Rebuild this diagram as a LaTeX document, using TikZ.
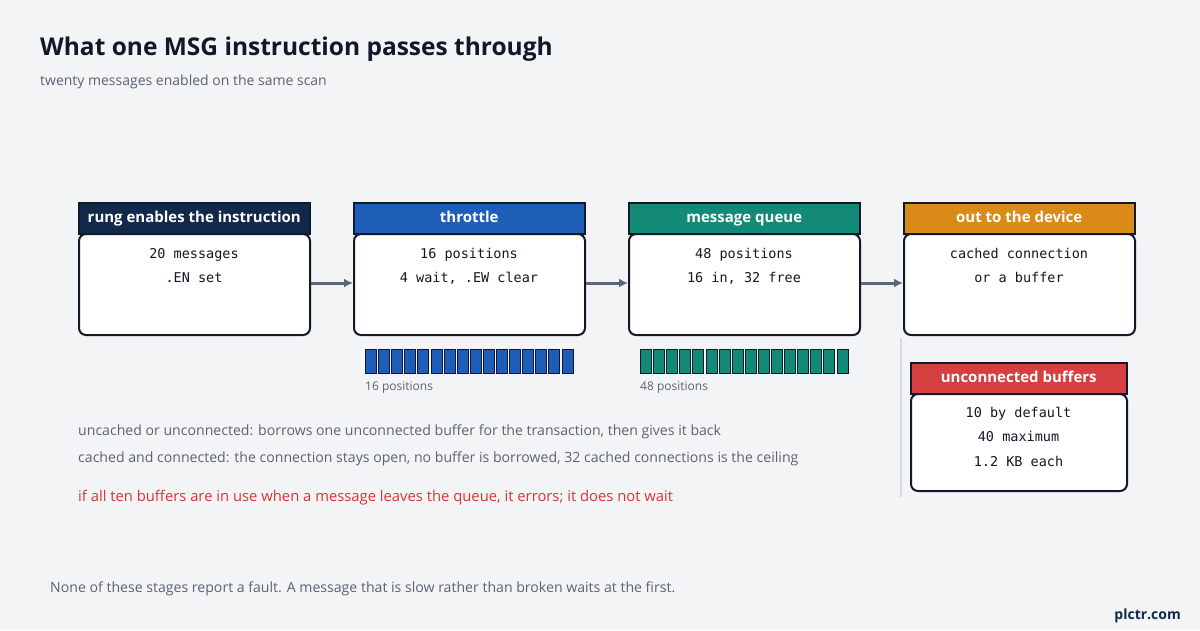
\documentclass[tikz,border=0pt]{standalone}
\usepackage{fontspec}
\setmainfont{Open Sans}
\setmonofont{DejaVu Sans Mono}
\usetikzlibrary{arrows.meta}
\definecolor{bg}{HTML}{F3F4F6}
\definecolor{ink}{HTML}{111827}
\definecolor{navy}{HTML}{13294B}
\definecolor{hblue}{HTML}{1F5EB8}
\definecolor{hteal}{HTML}{138A78}
\definecolor{horange}{HTML}{D98A17}
\definecolor{hred}{HTML}{D63F3F}
\definecolor{gtext}{HTML}{5B6272}
\definecolor{arrowc}{HTML}{5B6678}
\definecolor{rtext}{HTML}{D93434}
\definecolor{vline}{HTML}{D5D9E0}
\tikzset{
  hdr/.style={draw=ink, line width=1.5pt, minimum height=31pt, minimum width=231pt, inner sep=0pt, text height=11pt, text depth=3.5pt, text=white, font=\bfseries\fontsize{15}{18}\selectfont, anchor=north west},
  bodybox/.style={draw=ink, fill=white, line width=2pt, rounded corners=7pt, minimum width=231pt, inner sep=0pt, anchor=north west},
  mono/.style={font=\ttfamily\fontsize{13.5}{16}\selectfont, text=ink, anchor=base},
  cell/.style={draw=ink, line width=0.8pt, minimum width=11pt, minimum height=24pt, inner sep=0pt, anchor=north west},
  flow/.style={draw=arrowc, line width=3pt, -{Latex[length=9pt,width=9pt]}},
  note/.style={font=\fontsize{14.1}{17}\selectfont, text=gtext, anchor=base west},
  small/.style={font=\fontsize{12}{14}\selectfont, text=gtext, anchor=base west}
}
\begin{document}
\begin{tikzpicture}[x=1pt,y=-1pt]
\fill[bg] (0,0) rectangle (1200,630);
\useasboundingbox (0,0) rectangle (1200,630);

\node[font=\bfseries\fontsize{24.5}{28}\selectfont, text=ink, anchor=base west, inner sep=0pt] (title) at (40,55) {What one MSG instruction passes through};
\node[font=\fontsize{14}{17}\selectfont, text=gtext, anchor=base west, inner sep=0pt] (sub) at (40,85) {twenty messages enabled on the same scan};

% boxes
\node[bodybox, minimum height=101pt] (b1) at (78,233) {};
\node[hdr, fill=navy] (h1) at (78,202) {rung enables the instruction};
\node[mono] (b1a) at (194,258) {20 messages};
\node[mono] (b1b) at (194,282) {.EN set};

\node[bodybox, minimum height=101pt] (b2) at (353,233) {};
\node[hdr, fill=hblue] (h2) at (353,202) {throttle};
\node[mono] (b2a) at (469,258) {16 positions};
\node[mono] (b2b) at (469,282) {4 wait, .EW clear};

\node[bodybox, minimum height=101pt] (b3) at (628,233) {};
\node[hdr, fill=hteal] (h3) at (628,202) {message queue};
\node[mono] (b3a) at (744,258) {48 positions};
\node[mono] (b3b) at (744,282) {16 in, 32 free};

\node[bodybox, minimum height=101pt] (b4) at (903,233) {};
\node[hdr, fill=horange] (h4) at (903,202) {out to the device};
\node[mono] (b4a) at (1019,258) {cached connection};
\node[mono] (b4b) at (1019,282) {or a buffer};

% arrows
\draw[flow] (b1.east |- 0,283) -- (b2.west |- 0,283);
\draw[flow] (b2.east |- 0,283) -- (b3.west |- 0,283);
\draw[flow] (b3.east |- 0,283) -- (b4.west |- 0,283);

% cells
\foreach \i in {0,...,15} {
  \node[cell, fill=hblue] (tc\i) at ({365+\i*13.1},348.5) {};
  \node[cell, fill=hteal] (qc\i) at ({640+\i*13.1},348.5) {};
}
\node[small, inner sep=0pt] (tl) at (365,390) {16 positions};
\node[small, inner sep=0pt] (ql) at (640,390) {48 positions};

% vertical divider
\coordinate (v1) at (901,338); \coordinate (v2) at (901,497);
\draw[vline, line width=1.5pt] (v1) -- (v2);

% unconnected buffers
\node[bodybox, minimum width=216pt, minimum height=97pt] (b5) at (910,393) {};
\node[hdr, fill=hred, minimum width=216pt] (h5) at (910,362) {unconnected buffers};
\node[mono] (b5a) at (1018.5,417) {10 by default};
\node[mono] (b5b) at (1018.5,441) {40 maximum};
\node[mono] (b5c) at (1018.5,466) {1.2 KB each};

% notes
\node[note, inner sep=0pt] (n1) at (78,435) {uncached or unconnected: borrows one unconnected buffer for the transaction, then gives it back};
\node[note, inner sep=0pt] (n2) at (78,462) {cached and connected: the connection stays open, no buffer is borrowed, 32 cached connections is the ceiling};
\node[font=\fontsize{14.8}{18}\selectfont, text=rtext, anchor=base west, inner sep=0pt] (n3) at (78,501) {if all ten buffers are in use when a message leaves the queue, it errors; it does not wait};

\node[note, inner sep=0pt] (foot) at (50,592) {None of these stages report a fault. A message that is slow rather than broken waits at the first.};
\node[font=\bfseries\fontsize{14}{17}\selectfont, text=navy, anchor=base east, inner sep=0pt] (brand) at (1181,619) {plctr.com};
\end{tikzpicture}
\end{document}
